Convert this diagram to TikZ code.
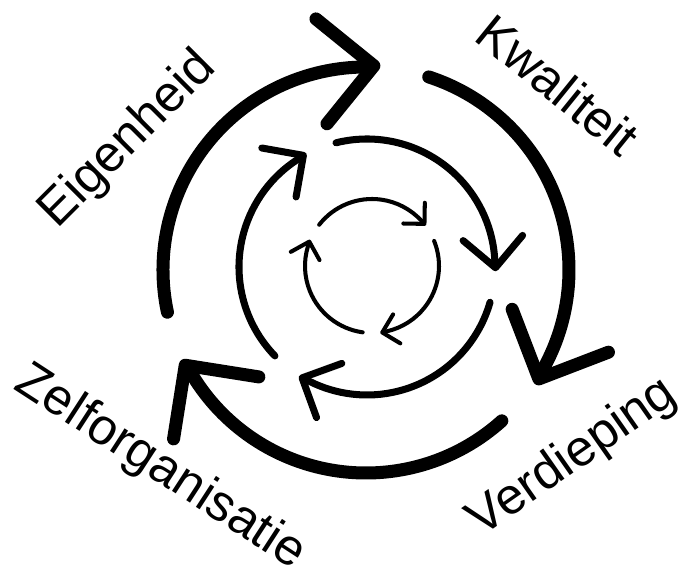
\documentclass[tikz,border=0pt]{standalone}
\usepackage{fontspec}
\setmainfont{Liberation Sans}
\usetikzlibrary{arrows.meta}

\begin{document}
\begin{tikzpicture}[x=0.02cm, y=0.02cm,
    ring/.style={line cap=round},
    outer/.style={ring, line width=7.4pt,
                  -{Straight Barb[round, length=30pt, width=60pt]}},
    mid/.style={ring, line width=4pt,
                -{Straight Barb[round, length=17pt, width=34pt]}},
    inner/.style={ring, line width=2.3pt,
                  -{Straight Barb[round, length=8.5pt, width=17pt]}},
    lbl/.style={font=\fontsize{29}{34}\selectfont, inner sep=0pt}
  ]
  \useasboundingbox (-369,-309) rectangle (322,268);

  % Outer ring (heads turned a little outward)
  \foreach \s [evaluate=\s as \e using \s-106] in {72,-48,-168}
    \draw[outer] (-3,-2) ++(\s:203) arc[start angle=\s, end angle=\e+5, radius=203]
      -- ++(\e-80:18);

  % Middle ring
  \foreach \s [evaluate=\s as \e using \s-106] in {104,-16,-136}
    \draw[mid] (-2,1) ++(\s:128) arc[start angle=\s, end angle=\e+5, radius=128]
      -- ++(\e-83:11);

  % Inner ring
  \foreach \s [evaluate=\s as \e using \s-105] in {142,22,-98}
    \draw[inner] (3,2) ++(\s:67) arc[start angle=\s, end angle=\e+6, radius=67]
      -- ++(\e-83:7);

  % Labels
  \node[lbl, rotate=-39] (kwal)    at (189,183)   {Kwaliteit};
  \node[lbl, rotate=45]  (eigen)   at (-241,128)  {Eigenheid};
  \node[lbl, rotate=35]  (verdiep) at (204,-190)  {Verdieping};
  \node[lbl, rotate=-33] (zelforg) at (-209,-200) {Zelforganisatie};
\end{tikzpicture}
\end{document}
